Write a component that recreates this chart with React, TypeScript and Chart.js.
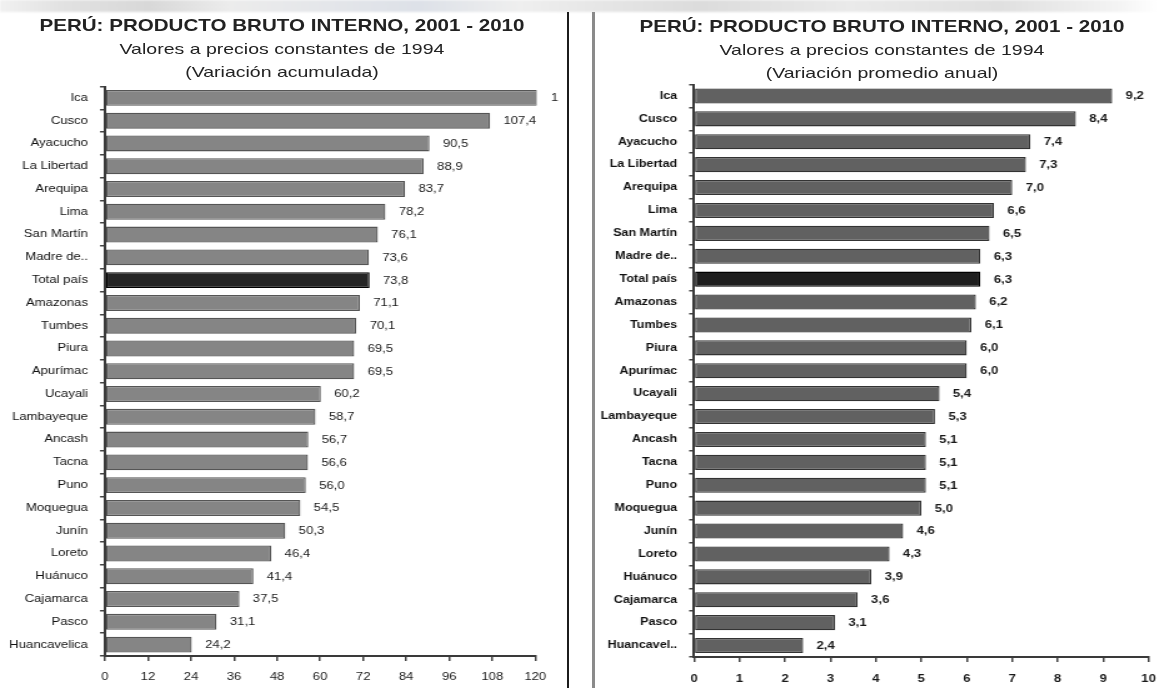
import React, { useEffect, useRef } from "react";
import { Chart, registerables } from "chart.js";

Chart.register(...registerables);

// ---- Data -----------------------------------------------------------------

const regionesAcumulada = [
  "Ica", "Cusco", "Ayacucho", "La Libertad", "Arequipa", "Lima", "San Martín",
  "Madre de..", "Total país", "Amazonas", "Tumbes", "Piura", "Apurímac",
  "Ucayali", "Lambayeque", "Ancash", "Tacna", "Puno", "Moquegua", "Junín",
  "Loreto", "Huánuco", "Cajamarca", "Pasco", "Huancavelica",
];

const variacionAcumulada = [
  120.7, 107.4, 90.5, 88.9, 83.7, 78.2, 76.1, 73.6, 73.8, 71.1, 70.1, 69.5,
  69.5, 60.2, 58.7, 56.7, 56.6, 56.0, 54.5, 50.3, 46.4, 41.4, 37.5, 31.1, 24.2,
];

const regionesPromedio = [
  "Ica", "Cusco", "Ayacucho", "La Libertad", "Arequipa", "Lima", "San Martín",
  "Madre de..", "Total país", "Amazonas", "Tumbes", "Piura", "Apurímac",
  "Ucayali", "Lambayeque", "Ancash", "Tacna", "Puno", "Moquegua", "Junín",
  "Loreto", "Huánuco", "Cajamarca", "Pasco", "Huancavel..",
];

const variacionPromedio = [
  9.2, 8.4, 7.4, 7.3, 7.0, 6.6, 6.5, 6.3, 6.3, 6.2, 6.1, 6.0, 6.0, 5.4, 5.3,
  5.1, 5.1, 5.1, 5.0, 4.6, 4.3, 3.9, 3.6, 3.1, 2.4,
];

const ejeAcumulada = [0, 12, 24, 36, 48, 60, 72, 84, 96, 108, 120];
const ejePromedio = [0, 1, 2, 3, 4, 5, 6, 7, 8, 9, 10];

const TITULO = "PERÚ: PRODUCTO BRUTO INTERNO, 2001 - 2010";
const SUBTITULO = "Valores a precios constantes de 1994";
const NOTA_ACUMULADA = "(Variación acumulada)";
const NOTA_PROMEDIO = "(Variación promedio anual)";
const TOTAL = "Total país";

// ---- Look -----------------------------------------------------------------

const FONT = '"Liberation Sans", Arial, Helvetica, sans-serif';
const H = 688;
// The charts are drawn on a narrower canvas and widened with CSS,
// which gives the wide, slightly soft lettering of the printed figure.
const S = 1.25;

Chart.defaults.font.family = FONT;

const fmt = (v: number) => v.toFixed(1).replace(".", ",");

const valueLabels = {
  id: "valueLabels",
  afterDatasetsDraw(chart: any, _args: any, opts: any) {
    const { ctx, chartArea } = chart;
    const meta = chart.getDatasetMeta(0);
    const data = chart.data.datasets[0].data as number[];
    ctx.save();
    ctx.beginPath();
    ctx.rect(0, 0, chartArea.right + opts.clipGap, chart.height);
    ctx.clip();
    ctx.font = opts.font;
    ctx.fillStyle = opts.color;
    ctx.textAlign = "left";
    ctx.textBaseline = "middle";
    meta.data.forEach((bar: any, i: number) => {
      ctx.fillText(fmt(data[i]), bar.x + opts.offset, bar.y + 0.5);
    });
    ctx.restore();
  },
};

type Panel = {
  labels: string[];
  values: number[];
  axis: number[];
  left: number; // canvas position on the page (px)
  width: number; // displayed canvas width (px)
  plotLeft: number; // plot area, displayed px relative to the canvas
  plotRight: number;
  plotTop: number;
  plotBottom: number;
  fill: string;
  border: string;
  totalFill: string;
  totalBorder: string;
  barPct: number;
  catFont: { size: number; weight: string };
  valFont: string;
  tickFont: { size: number; weight: string };
  tickPad: number;
  clipGap: number;
};

function BarPanel({ p }: { p: Panel }) {
  const ref = useRef<HTMLCanvasElement>(null);
  const w = Math.round(p.width / S);

  useEffect(() => {
    const canvas = ref.current!;
    const step = p.axis[1] - p.axis[0];
    const chart = new Chart(canvas, {
      type: "bar",
      data: {
        labels: p.labels,
        datasets: [
          {
            data: p.values,
            backgroundColor: p.labels.map((l) => (l === TOTAL ? p.totalFill : p.fill)),
            borderColor: p.labels.map((l) => (l === TOTAL ? p.totalBorder : p.border)),
            borderWidth: 1.3,
            borderSkipped: false,
            barPercentage: p.barPct,
            categoryPercentage: 1,
            clip: 1,
          } as any,
        ],
      },
      options: {
        indexAxis: "y",
        responsive: false,
        animation: false,
        devicePixelRatio: 1,
        events: [],
        layout: {
          padding: {
            top: p.plotTop,
            bottom: 0,
            left: 0,
            right: w - p.plotRight / S,
          },
        },
        plugins: {
          legend: { display: false },
          title: { display: false },
          tooltip: { enabled: false },
          valueLabels: {
            font: p.valFont,
            color: "#1a1a1a",
            offset: 10.7,
            clipGap: p.clipGap,
          },
        } as any,
        scales: {
          x: {
            type: "linear",
            min: p.axis[0],
            max: p.axis[p.axis.length - 1],
            ticks: {
              stepSize: step,
              color: "#1a1a1a",
              font: { size: p.tickFont.size, weight: p.tickFont.weight as any },
              padding: p.tickPad,
              maxRotation: 0,
              autoSkip: false,
            },
            grid: {
              drawOnChartArea: false,
              drawTicks: true,
              tickLength: 5,
              color: "#444",
              lineWidth: 1.5,
            },
            border: { display: true, color: "#3a3a3a", width: 2 },
            afterFit(scale: any) {
              scale.height = H - p.plotBottom;
            },
          },
          y: {
            type: "category",
            offset: true,
            ticks: {
              color: "#111",
              font: { size: p.catFont.size, weight: p.catFont.weight as any },
              padding: 9.6,
              autoSkip: false,
            },
            grid: {
              offset: true,
              drawOnChartArea: false,
              drawTicks: true,
              tickLength: 4,
              color: "#444",
              lineWidth: 1.5,
            },
            border: { display: true, color: "#3a3a3a", width: 2 },
            afterFit(scale: any) {
              scale.width = p.plotLeft / S;
            },
          },
        } as any,
      },
      plugins: [valueLabels as any],
    });
    return () => chart.destroy();
  }, []);

  return (
    <canvas
      ref={ref}
      width={w}
      height={H}
      style={{
        position: "absolute",
        left: p.left,
        top: 0,
        width: w * S,
        height: H,
        display: "block",
      }}
    />
  );
}

function Heading({
  center,
  top,
  note,
}: {
  center: number;
  top: number;
  note: string;
}) {
  const line = (
    text: string,
    y: number,
    size: number,
    weight: number,
    sx: number
  ) => (
    <div
      style={{
        position: "absolute",
        left: center - 400,
        width: 800,
        top: y,
        textAlign: "center",
        fontFamily: FONT,
        fontSize: size,
        fontWeight: weight,
        lineHeight: `${size}px`,
        color: "#222",
        whiteSpace: "nowrap",
        transform: `scaleX(${sx})`,
        transformOrigin: "center",
      }}
    >
      {text}
    </div>
  );
  return (
    <>
      {line(TITULO, top + 16.6, 17, 700, 1.21)}
      {line(SUBTITULO, top + 41.3, 15, 400, 1.3)}
      {line(note, top + 64.3, 15, 400, 1.3)}
    </>
  );
}

const panelAcumulada: Panel = {
  labels: regionesAcumulada,
  values: variacionAcumulada,
  axis: ejeAcumulada,
  left: 0,
  width: 566,
  plotLeft: 105,
  plotRight: 535.5,
  plotTop: 86.5,
  plotBottom: 656,
  fill: "#858585",
  border: "#555",
  totalFill: "#262626",
  totalBorder: "#000",
  barPct: 0.7,
  catFont: { size: 10.5, weight: "400" },
  valFont: `400 10.5px ${FONT}`,
  tickFont: { size: 10.5, weight: "400" },
  tickPad: 9.5,
  clipGap: 18.5,
};

const panelPromedio: Panel = {
  labels: regionesPromedio,
  values: variacionPromedio,
  axis: ejePromedio,
  left: 596,
  width: 572,
  plotLeft: 98,
  plotRight: 556,
  plotTop: 84.5,
  plotBottom: 657,
  fill: "#616161",
  border: "#333",
  totalFill: "#1e1e1e",
  totalBorder: "#000",
  barPct: 0.66,
  catFont: { size: 10, weight: "700" },
  valFont: `700 10.5px ${FONT}`,
  tickFont: { size: 10.5, weight: "700" },
  tickPad: 10.5,
  clipGap: 18.5,
};

export default function App() {
  return (
    <div
      style={{
        position: "fixed",
        left: 0,
        top: 0,
        width: 1158,
        height: H,
        overflow: "hidden",
        background: "#fff",
      }}
    >
      <div
        style={{
          position: "absolute",
          left: 0,
          top: 0,
          width: 1158,
          height: 12,
          background:
            "linear-gradient(90deg, #f1f1f1 0px, #e2e2e2 60px, #d8d8d8 150px, #ececec 230px, #e4e6ea 330px, #dde1e8 420px, #efefef 520px, #e6e6e6 600px, #dcdcdc 700px, #eaeaea 850px, #e0e0e0 1000px, #f4f4f4 1120px, #ffffff 1158px)",
          filter: "blur(1px)",
        }}
      />
      <BarPanel p={panelAcumulada} />
      <BarPanel p={panelPromedio} />
      <div
        style={{
          position: "absolute",
          left: 567,
          top: 12,
          width: 2,
          height: H - 12,
          background: "#1c1c1c",
        }}
      />
      <div
        style={{
          position: "absolute",
          left: 592,
          top: 12,
          width: 3,
          height: H - 12,
          background: "#8a8a8a",
        }}
      />
      <Heading center={282} top={0} note={NOTA_ACUMULADA} />
      <Heading center={882} top={1} note={NOTA_PROMEDIO} />
    </div>
  );
}
